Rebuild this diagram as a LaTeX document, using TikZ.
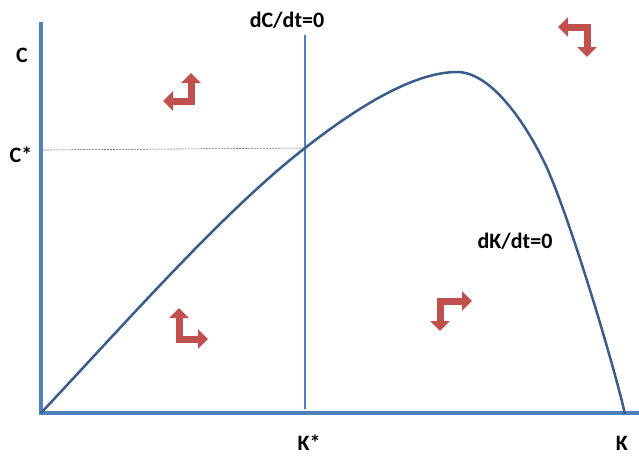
\documentclass[tikz,border=0pt]{standalone}
\usepackage{fontspec}
\setmainfont{Carlito}
\usetikzlibrary{arrows.meta}
\definecolor{axisblue}{RGB}{79,129,189}
\definecolor{curveblue}{RGB}{56,93,138}
\definecolor{flowred}{RGB}{192,80,77}

\begin{document}
\begin{tikzpicture}[x=1pt, y=-1pt, font=\bfseries\fontsize{22}{26}\selectfont,
  axis/.style={draw=axisblue, line width=3.5pt},
  flow/.style={draw=flowred, line width=7pt,
    {Triangle[length=10pt,width=19pt]}-{Triangle[length=10pt,width=19pt]}}]
\useasboundingbox (0,0) rectangle (639,458);
% --- axes ---
\coordinate (ytop) at (41,22);
\coordinate (origin) at (41,413);
\coordinate (xend) at (639,413);
\draw[axis] (ytop) -- (origin) -- (xend);
\node (clab) at (22,55) {C};
\node (klab) at (622,443) {K};
% --- dC/dt=0 locus (vertical) ---
\coordinate (vtop) at (305,35);
\coordinate (vbot) at (305,409);
\coordinate (steady) at (305,148);
\draw[axisblue, line width=1.5pt] (vtop) -- (vbot);
\node (dcdt) at (287,20) {dC/dt=0};
\node (kstar) at (309,443) {K*};
% --- dK/dt=0 locus (hump) ---
\coordinate (peak) at (457,72);
\coordinate (bend) at (547,168);
\coordinate (kmax) at (625,414);
\draw[curveblue, line width=2.5pt] (origin)
  .. controls (130,318) and (225,210) .. (steady)
  .. controls (360,105) and (415,72) .. (peak)
  .. controls (495,72) and (532,135) .. (bend)
  .. controls (571,222) and (613,362) .. (kmax);
\node (dkdt) at (515,241) {dK/dt=0};
% steady state consumption
\coordinate (caxis) at (44,150);
\node (cstar) at (21,155) {C*};
\draw[black!55, line width=0.6pt, dash pattern=on 2pt off 1pt] (caxis) -- (steady);
% --- direction arrows ---
\coordinate (a1u) at (191,73);  \coordinate (a1c) at (191,101); \coordinate (a1l) at (163,101);
\coordinate (a2l) at (558,27);  \coordinate (a2c) at (587,27);  \coordinate (a2d) at (587,57);
\coordinate (a3u) at (179,308); \coordinate (a3c) at (179,339); \coordinate (a3r) at (208,339);
\coordinate (a4r) at (472,301); \coordinate (a4c) at (440,301); \coordinate (a4d) at (440,331);
\draw[flow] (a1u) -- (a1c) -- (a1l);
\draw[flow] (a2l) -- (a2c) -- (a2d);
\draw[flow] (a3u) -- (a3c) -- (a3r);
\draw[flow] (a4r) -- (a4c) -- (a4d);
\end{tikzpicture}
\end{document}
